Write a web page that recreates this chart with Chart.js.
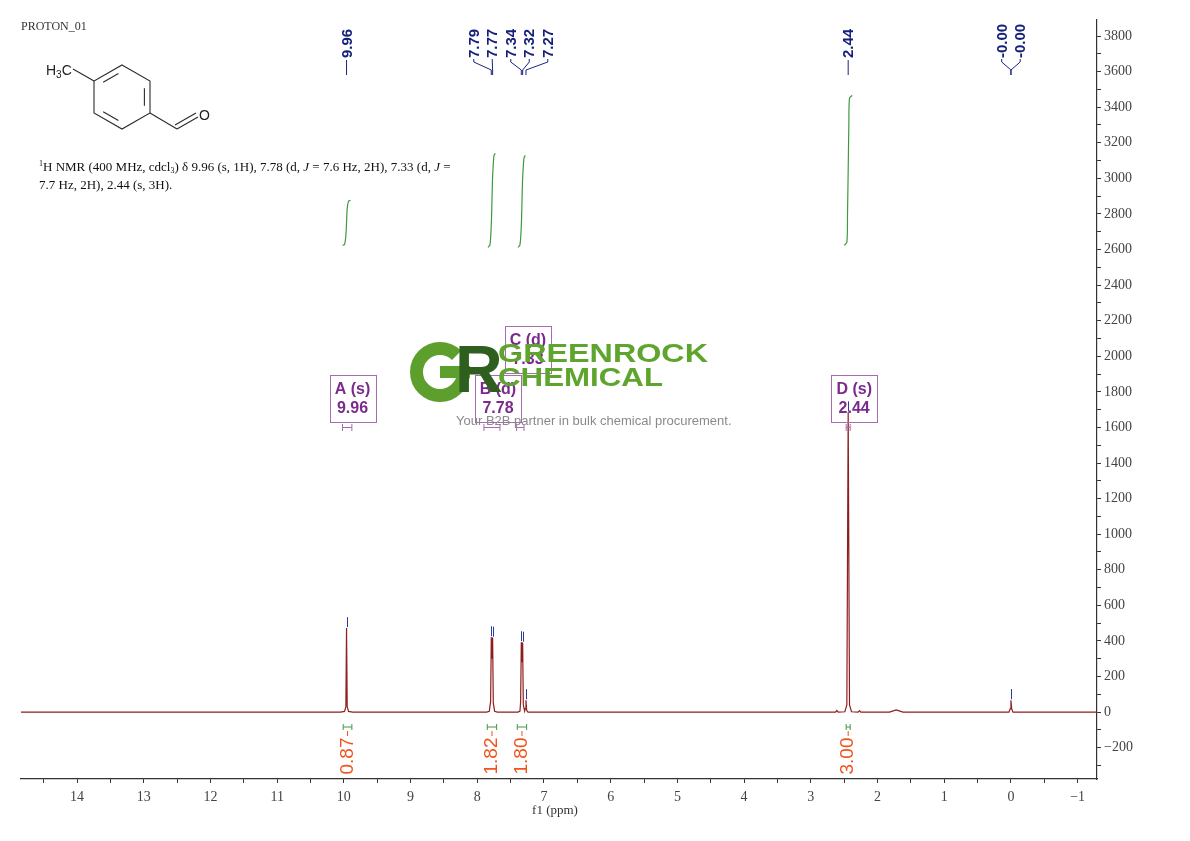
<!DOCTYPE html>
<html>
<head>
<meta charset="utf-8">
<script src="https://cdn.jsdelivr.net/npm/chart.js@4.4.0/dist/chart.umd.min.js"></script>
<style>
  html, body { margin: 0; padding: 0; background: #fff; }
  #wrap { width: 1190px; height: 841px; }
</style>
</head>
<body>
<div id="wrap"><canvas id="nmr" width="1190" height="841"></canvas></div>
<script>
// 1H spectrum trace (ppm / intensity)
const shiftPpm = [14.84, 10.05, 9.99, 9.97, 9.96, 9.95, 9.93, 9.87,
    7.86, 7.82, 7.80, 7.79, 7.78, 7.77, 7.76, 7.74, 7.70,
    7.39, 7.36, 7.35, 7.34, 7.33, 7.32, 7.31, 7.29, 7.28, 7.27, 7.26, 7.24,
    2.63, 2.61, 2.59, 2.49, 2.46, 2.44, 2.42, 2.39, 2.29, 2.27, 2.25,
    1.82, 1.72, 1.62, 0.03, 0.01, 0.00, -0.01, -0.03, -1.29];
const intensity = [0, 0, 4, 30, 472, 30, 4, 0,
    0, 5, 60, 421, 300, 418, 50, 5, 0,
    0, 6, 60, 393, 280, 390, 40, 5, 20, 67, 10, 0,
    0, 9, 0, 2, 40, 1685, 40, 2, 0, 8, 0,
    0, 12, 0, 0, 20, 67, 20, 0, 0];

// picked peaks (top labels)
const pickShift = [9.96, 7.79, 7.77, 7.34, 7.32, 7.27, 2.44, 0.00, 0.00];
const pickLabel = ['9.96', '7.79', '7.77', '7.34', '7.32', '7.27', '2.44', '-0.00', '-0.00'];

// integrals
const integralA_ppm = [10.02, 9.99, 9.97, 9.96, 9.95, 9.93, 9.90];
const integralA_val = [2624, 2628, 2680, 2750, 2830, 2872, 2876];
const integralB_ppm = [7.84, 7.81, 7.79, 7.78, 7.77, 7.75, 7.73];
const integralB_val = [2612, 2626, 2740, 2870, 3010, 3128, 3140];
const integralC_ppm = [7.39, 7.36, 7.34, 7.33, 7.32, 7.30, 7.28];
const integralC_val = [2612, 2626, 2735, 2865, 3000, 3115, 3129];
const integralD_ppm = [2.50, 2.46, 2.45, 2.44, 2.43, 2.42, 2.38];
const integralD_val = [2624, 2640, 2800, 3040, 3300, 3450, 3466];
const integralFrom = [10.01, 7.85, 7.40, 2.47];
const integralTo = [9.88, 7.71, 7.26, 2.41];
const integralText = ['0.87', '1.82', '1.80', '3.00'];

// multiplets
const multName = ['A (s)', 'B (d)', 'C (d)', 'D (s)'];
const multShift = ['9.96', '7.78', '7.33', '2.44'];
const multFrom = [10.02, 7.90, 7.41, 2.47];
const multTo = [9.88, 7.66, 7.30, 2.41];

// axis ranges / ticks (minor step, labelled every 2nd for y, every integer for x)
const xMin = -1.29, xMax = 14.84;
const yMin = -376, yMax = 3890;
const xStep = 0.5, yStep = 100;

const serif = '"Liberation Serif", "DejaVu Serif", serif';
const sans = '"Liberation Sans", Arial, sans-serif';

function zip(xs, ys) {
    return xs.map((x, i) => ({ x: x, y: ys[i] }));
}

function fmt(v) {
    return v < 0 ? '\u2212' + Math.abs(v) : String(v);
}

// ticks on every step inside the range, without the min/max bound ticks
function onStep(step) {
    return s => {
        const out = [];
        for (let k = Math.ceil(s.min / step); k * step <= s.max + 1e-9; k++) {
            out.push({ value: Math.round(k * step * 1000) / 1000 });
        }
        s.ticks = out;
    };
}

function integralSet(xs, ys) {
    return {
        data: zip(xs, ys),
        showLine: true,
        borderColor: '#3f9a3f',
        borderWidth: 1.2,
        pointRadius: 0,
        tension: 0.3
    };
}

// draws a text run made of pieces with their own font / vertical shift
function richText(ctx, x, y, parts) {
    parts.forEach(p => {
        ctx.font = p.f;
        ctx.fillText(p.t, x, y + (p.dy || 0));
        x += ctx.measureText(p.t).width;
    });
}

function drawMolecule(ctx) {
    ctx.save();
    ctx.strokeStyle = '#2a2a2a';
    ctx.lineWidth = 1.1;
    const v = [[122, 65], [150, 81], [150, 113], [122, 129], [94, 113], [94, 81]];
    ctx.beginPath();
    v.forEach((p, i) => i ? ctx.lineTo(p[0], p[1]) : ctx.moveTo(p[0], p[1]));
    ctx.closePath();
    ctx.stroke();
    // inner double bonds
    const cx = 122, cy = 97;
    [[5, 0], [1, 2], [3, 4]].forEach(e => {
        const a = v[e[0]], b = v[e[1]];
        const s = 0.16, k = 0.2;
        const ax = a[0] + (cx - a[0]) * k, ay = a[1] + (cy - a[1]) * k;
        const bx = b[0] + (cx - b[0]) * k, by = b[1] + (cy - b[1]) * k;
        ctx.beginPath();
        ctx.moveTo(ax + (bx - ax) * s, ay + (by - ay) * s);
        ctx.lineTo(bx - (bx - ax) * s, by - (by - ay) * s);
        ctx.stroke();
    });
    ctx.beginPath();
    ctx.moveTo(73, 69); ctx.lineTo(94, 81);
    ctx.moveTo(150, 113); ctx.lineTo(177, 129);
    ctx.moveTo(177, 129); ctx.lineTo(198, 117);
    ctx.moveTo(175, 125); ctx.lineTo(196, 113);
    ctx.stroke();
    ctx.fillStyle = '#222';
    ctx.textBaseline = 'alphabetic';
    richText(ctx, 46, 75, [
        { t: 'H', f: '14px ' + sans },
        { t: '3', f: '10px ' + sans, dy: 3 },
        { t: 'C', f: '14px ' + sans }
    ]);
    ctx.font = '14px ' + sans;
    ctx.fillText('O', 199, 120);
    ctx.restore();
}

const nmrDecor = {
    id: 'nmrDecor',
    afterDraw(chart) {
        const ctx = chart.ctx;
        const xs = chart.scales.x, ys = chart.scales.y;
        const px = v => xs.getPixelForValue(v);
        const py = v => ys.getPixelForValue(v);
        ctx.save();

        // header text
        ctx.fillStyle = '#333';
        ctx.font = '12px ' + serif;
        ctx.textBaseline = 'middle';
        ctx.fillText('PROTON_01', 21, 27);
        drawMolecule(ctx);

        ctx.fillStyle = '#111';
        ctx.textBaseline = 'alphabetic';
        const rm = '13px ' + serif, it = 'italic 13px ' + serif, sm = '8px ' + serif;
        richText(ctx, 39, 171, [
            { t: '1', f: sm, dy: -5 },
            { t: 'H NMR (400 MHz, cdcl', f: rm },
            { t: '3', f: sm, dy: 2 },
            { t: ') \u03b4 9.96 (s, 1H), 7.78 (d, ', f: rm },
            { t: 'J', f: it },
            { t: ' = 7.6 Hz, 2H), 7.33 (d, ', f: rm },
            { t: 'J', f: it },
            { t: ' =', f: rm }
        ]);
        richText(ctx, 39, 189, [{ t: '7.7 Hz, 2H), 2.44 (s, 3H).', f: rm }]);

        // blue peak-pick markers
        ctx.strokeStyle = '#2b3c9e';
        ctx.lineWidth = 1;
        pickShift.forEach(p => {
            const h = intensity[shiftPpm.indexOf(p)];
            const x = Math.round(px(p)) + 0.5, y = py(h);
            ctx.beginPath();
            ctx.moveTo(x, y - 1);
            ctx.lineTo(x, y - 11);
            ctx.stroke();
        });

        // top peak labels, spread so they do not overlap
        const gap = 18.5;
        let groups = pickShift.map((p, i) => ({ idx: [i], c: px(p) }));
        groups.sort((a, b) => a.c - b.c);
        let merged = true;
        while (merged) {
            merged = false;
            for (let i = 0; i < groups.length - 1; i++) {
                const a = groups[i], b = groups[i + 1];
                const aEnd = a.c + (a.idx.length - 1) * gap / 2;
                const bStart = b.c - (b.idx.length - 1) * gap / 2;
                if (bStart - aEnd < gap) {
                    const idx = a.idx.concat(b.idx);
                    const c = idx.reduce((s, k) => s + px(pickShift[k]), 0) / idx.length;
                    groups.splice(i, 2, { idx: idx, c: c });
                    merged = true;
                    break;
                }
            }
        }
        ctx.strokeStyle = '#1a237e';
        ctx.fillStyle = '#14207a';
        ctx.lineWidth = 1;
        ctx.font = 'bold 15px ' + sans;
        groups.forEach(g => {
            const ordered = g.idx.slice().sort((a, b) => px(pickShift[a]) - px(pickShift[b]));
            ordered.forEach((k, j) => {
                const lx = g.c + (j - (ordered.length - 1) / 2) * gap;
                const xp = px(pickShift[k]);
                ctx.beginPath();
                if (ordered.length === 1) {
                    ctx.moveTo(lx, 60); ctx.lineTo(lx, 75);
                } else {
                    ctx.moveTo(lx, 59); ctx.lineTo(lx, 62);
                    ctx.lineTo(xp, 70); ctx.lineTo(xp, 75);
                }
                ctx.stroke();
                ctx.save();
                ctx.translate(lx + 1, 58);
                ctx.rotate(-Math.PI / 2);
                ctx.textAlign = 'left';
                ctx.textBaseline = 'middle';
                ctx.fillText(pickLabel[k], 0, 0);
                ctx.restore();
            });
        });

        // integral ranges and values
        integralText.forEach((t, i) => {
            const x1 = px(integralFrom[i]), x2 = px(integralTo[i]);
            const xc = (x1 + x2) / 2;
            ctx.strokeStyle = '#3f9a3f';
            ctx.lineWidth = 1;
            ctx.beginPath();
            ctx.moveTo(x1, 727); ctx.lineTo(x2, 727);
            ctx.moveTo(x1, 724); ctx.lineTo(x1, 730);
            ctx.moveTo(x2, 724); ctx.lineTo(x2, 730);
            ctx.stroke();
            ctx.strokeStyle = '#f0541e';
            ctx.beginPath();
            ctx.moveTo(xc, 731); ctx.lineTo(xc, 736);
            ctx.stroke();
            ctx.save();
            ctx.translate(xc, 756);
            ctx.rotate(-Math.PI / 2);
            ctx.fillStyle = '#f0541e';
            ctx.font = '500 19px ' + sans;
            ctx.textAlign = 'center';
            ctx.textBaseline = 'middle';
            ctx.fillText(t, 0, 0);
            ctx.restore();
        });

        // multiplet boxes
        const row = [0, 0, 1, 0];
        multName.forEach((n, i) => {
            const x1 = px(multFrom[i]), x2 = px(multTo[i]);
            const cx = px(parseFloat(multShift[i])) + 6;
            const top = row[i] ? 326 : 375;
            ctx.strokeStyle = '#a76bb0';
            ctx.lineWidth = 1;
            ctx.strokeRect(Math.round(cx - 23) + 0.5, top + 0.5, 46, 47);
            ctx.fillStyle = '#7b2a8d';
            ctx.font = 'bold 16px ' + sans;
            ctx.textAlign = 'center';
            ctx.textBaseline = 'middle';
            ctx.fillText(n, cx, top + 15);
            ctx.fillText(multShift[i], cx, top + 34);
            ctx.beginPath();
            ctx.moveTo(x1, 427.5); ctx.lineTo(x2, 427.5);
            ctx.moveTo(x1, 424); ctx.lineTo(x1, 431);
            ctx.moveTo(x2, 424); ctx.lineTo(x2, 431);
            ctx.stroke();
        });

        // axis title
        ctx.fillStyle = '#333';
        ctx.font = '13px ' + serif;
        ctx.textAlign = 'center';
        ctx.textBaseline = 'middle';
        ctx.fillText('f1 (ppm)', 555, 811);

        // watermark
        ctx.strokeStyle = '#5c9f2c';
        ctx.lineWidth = 13;
        ctx.beginPath();
        ctx.arc(440, 372, 23.5, -Math.PI / 4, 0, true);
        ctx.stroke();
        ctx.fillStyle = '#5c9f2c';
        ctx.fillRect(440, 366, 30, 12);
        ctx.fillStyle = '#2f5f1f';
        ctx.font = 'bold 66px ' + sans;
        ctx.textAlign = 'left';
        ctx.textBaseline = 'alphabetic';
        ctx.fillText('R', 455, 392);
        ctx.fillStyle = '#5ea52e';
        ctx.font = 'bold 26px ' + sans;
        [['GREENROCK', 362, 210], ['CHEMICAL', 386, 165]].forEach(w => {
            const wd = ctx.measureText(w[0]).width;
            ctx.save();
            ctx.translate(498, w[1]);
            ctx.scale(w[2] / wd, 1);
            ctx.fillText(w[0], 0, 0);
            ctx.restore();
        });
        ctx.fillStyle = '#8a8a8a';
        ctx.font = '13px ' + sans;
        ctx.textBaseline = 'middle';
        ctx.fillText('Your B2B partner in bulk chemical procurement.', 456, 421);

        ctx.restore();
    }
};

new Chart(document.getElementById('nmr'), {
    type: 'scatter',
    data: {
        datasets: [
            {
                data: zip(shiftPpm, intensity),
                showLine: true,
                borderColor: '#8e1d1d',
                borderWidth: 1.2,
                pointRadius: 0,
                tension: 0
            },
            integralSet(integralA_ppm, integralA_val),
            integralSet(integralB_ppm, integralB_val),
            integralSet(integralC_ppm, integralC_val),
            integralSet(integralD_ppm, integralD_val)
        ]
    },
    options: {
        responsive: false,
        animation: false,
        layout: { padding: { left: 21, top: 20, right: 0, bottom: 0 } },
        plugins: { legend: { display: false }, tooltip: { enabled: false } },
        scales: {
            x: {
                type: 'linear',
                reverse: true,
                min: xMin,
                max: xMax,
                afterFit: s => { s.height = 62; },
                afterBuildTicks: onStep(xStep),
                border: { color: '#333', width: 1.2 },
                grid: { drawOnChartArea: false, tickLength: 4, tickColor: '#333' },
                ticks: {
                    stepSize: xStep,
                    autoSkip: false,
                    maxRotation: 0,
                    padding: 6,
                    color: '#444',
                    font: { family: serif, size: 14 },
                    callback: v => Number.isInteger(v) ? fmt(v) : ''
                }
            },
            y: {
                type: 'linear',
                position: 'right',
                min: yMin,
                max: yMax,
                afterFit: s => { s.width = 93; },
                afterBuildTicks: onStep(yStep),
                border: { color: '#333', width: 1.2 },
                grid: { drawOnChartArea: false, tickLength: 4, tickColor: '#333' },
                ticks: {
                    stepSize: yStep,
                    autoSkip: false,
                    padding: 3,
                    color: '#444',
                    font: { family: serif, size: 14 },
                    callback: v => v % 200 === 0 ? fmt(v) : ''
                }
            }
        }
    },
    plugins: [nmrDecor]
});
</script>
</body>
</html>
